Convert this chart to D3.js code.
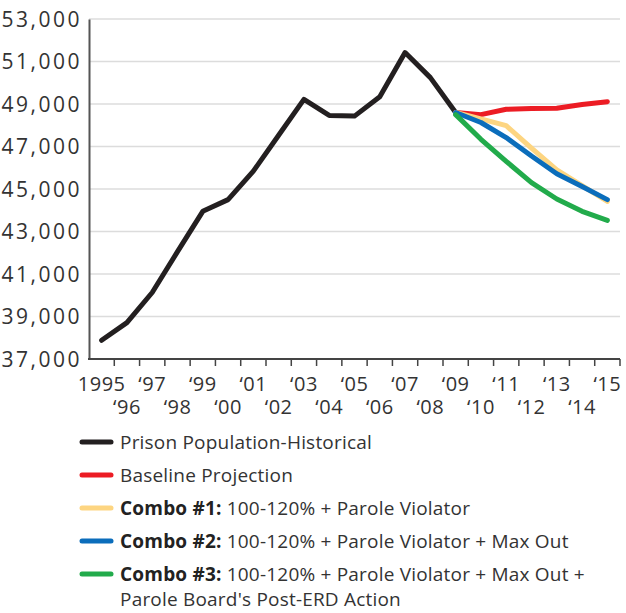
<!DOCTYPE html>
<html>
<head>
<meta charset="utf-8">
<script src="https://cdn.jsdelivr.net/npm/d3@7"></script>
<style>
  body { margin: 0; background: #fff; }
  text { font-family: "Open Sans", "Noto Sans", sans-serif; fill: #333; }
</style>
</head>
<body>
<div id="chart"></div>
<script>
// data
var years = d3.range(1995, 2016);
var histYears = d3.range(1995, 2010);
var projYears = d3.range(2009, 2016);

var historical = [37880, 38710, 40130, 42050, 43950, 44500, 45840, 47530, 49220, 48460, 48430, 49340, 51420, 50240, 48600];
var baseline = [48600, 48500, 48750, 48790, 48800, 48980, 49110];
var combo1 = [48600, 48300, 47980, 46920, 45900, 45160, 44420];
var combo2 = [48600, 48130, 47420, 46550, 45720, 45120, 44500];
var combo3 = [48500, 47340, 46300, 45300, 44530, 43950, 43520];

var yTicks = [37000, 39000, 41000, 43000, 45000, 47000, 49000, 51000, 53000];

var series = [
  { name: "hist", years: histYears, values: historical, color: "#231f20" },
  { name: "base", years: projYears, values: baseline, color: "#ec1c24" },
  { name: "c1", years: projYears, values: combo1, color: "#fdd581" },
  { name: "c2", years: projYears, values: combo2, color: "#0b6dbb" },
  { name: "c3", years: projYears, values: combo3, color: "#22ab4b" }
];

var legendItems = [
  { color: "#231f20", bold: "", rest: "Prison Population-Historical" },
  { color: "#ec1c24", bold: "", rest: "Baseline Projection" },
  { color: "#fdd581", bold: "Combo #1:", rest: " 100-120% + Parole Violator" },
  { color: "#0b6dbb", bold: "Combo #2:", rest: " 100-120% + Parole Violator + Max Out" },
  { color: "#22ab4b", bold: "Combo #3:", rest: " 100-120% + Parole Violator + Max Out +", line2: "Parole Board's Post-ERD Action" }
];

var W = 626, H = 613;
var m = { l: 89, r: 620, t: 19, b: 359 };

var svg = d3.select("#chart").append("svg")
  .attr("width", W)
  .attr("height", H);

var x = d3.scaleBand().domain(years).range([m.l, m.r]).padding(0);
var y = d3.scaleLinear().domain([37000, 53000]).range([m.b, m.t]);
var cx = function(yr) { return x(yr) + x.bandwidth() / 2; };

// gridlines
svg.append("g")
  .selectAll("line")
  .data(yTicks.slice(1))
  .enter().append("line")
  .attr("x1", m.l).attr("x2", m.r)
  .attr("y1", function(d) { return y(d); })
  .attr("y2", function(d) { return y(d); })
  .style("stroke", "#dcdcdc")
  .style("stroke-width", 1.5);

// y axis
var yAxis = d3.axisLeft(y).tickValues(yTicks).tickSize(0).tickPadding(7)
  .tickFormat(d3.format(","));
var gy = svg.append("g")
  .attr("transform", "translate(" + m.l + ",0)")
  .call(yAxis);
gy.select(".domain").style("stroke", "#555").style("stroke-width", 2);
gy.selectAll("text")
  .style("font-size", "21px")
  .style("letter-spacing", "2.5px")
  .attr("dy", "0.35em");

// x axis: ticks sit between the years
var xAxis = d3.axisBottom(x).tickSize(7).tickSizeOuter(0)
  .tickFormat(function(d) { return d == 1995 ? "1995" : "\u2018" + String(d).slice(2); });
var gx = svg.append("g")
  .attr("transform", "translate(0," + m.b + ")")
  .call(xAxis);
gx.select(".domain").style("stroke", "#444").style("stroke-width", 2)
  .attr("d", "M" + (m.l - 1) + ",0H" + m.r);
gx.selectAll(".tick line")
  .attr("x1", x.bandwidth() / 2).attr("x2", x.bandwidth() / 2)
  .style("stroke", "#444").style("stroke-width", 1.5);
gx.selectAll(".tick text")
  .style("font-size", "20px")
  .style("letter-spacing", "0.5px")
  .attr("y", function(d, i) { return i % 2 == 0 ? 32 : 55; })
  .attr("dy", 0);

// lines
var line = d3.line()
  .x(function(d) { return cx(d[0]); })
  .y(function(d) { return y(d[1]); });

svg.append("g")
  .selectAll("path")
  .data(series)
  .enter().append("path")
  .attr("d", function(s) { return line(d3.zip(s.years, s.values)); })
  .style("fill", "none")
  .style("stroke", function(s) { return s.color; })
  .style("stroke-width", 5)
  .style("stroke-linejoin", "round")
  .style("stroke-linecap", "round");

// legend
var legend = svg.append("g").selectAll("g")
  .data(legendItems)
  .enter().append("g")
  .attr("transform", function(d, i) { return "translate(82," + (442 + i * 33) + ")"; });

legend.append("line")
  .attr("x1", 0).attr("x2", 29)
  .style("stroke", function(d) { return d.color; })
  .style("stroke-width", 5)
  .style("stroke-linecap", "round");

var lt = legend.append("text")
  .attr("x", 38)
  .attr("dy", "0.35em")
  .style("font-size", "19px")
  .style("letter-spacing", "0.2px");
lt.append("tspan").style("font-weight", "bold").style("fill", "#222").text(function(d) { return d.bold; });
lt.append("tspan").text(function(d) { return d.rest; });

legend.filter(function(d) { return d.line2; })
  .append("text")
  .attr("x", 38)
  .attr("y", 25.5)
  .attr("dy", "0.32em")
  .style("font-size", "19px")
  .style("letter-spacing", "0.2px")
  .text(function(d) { return d.line2; });
</script>
</body>
</html>
